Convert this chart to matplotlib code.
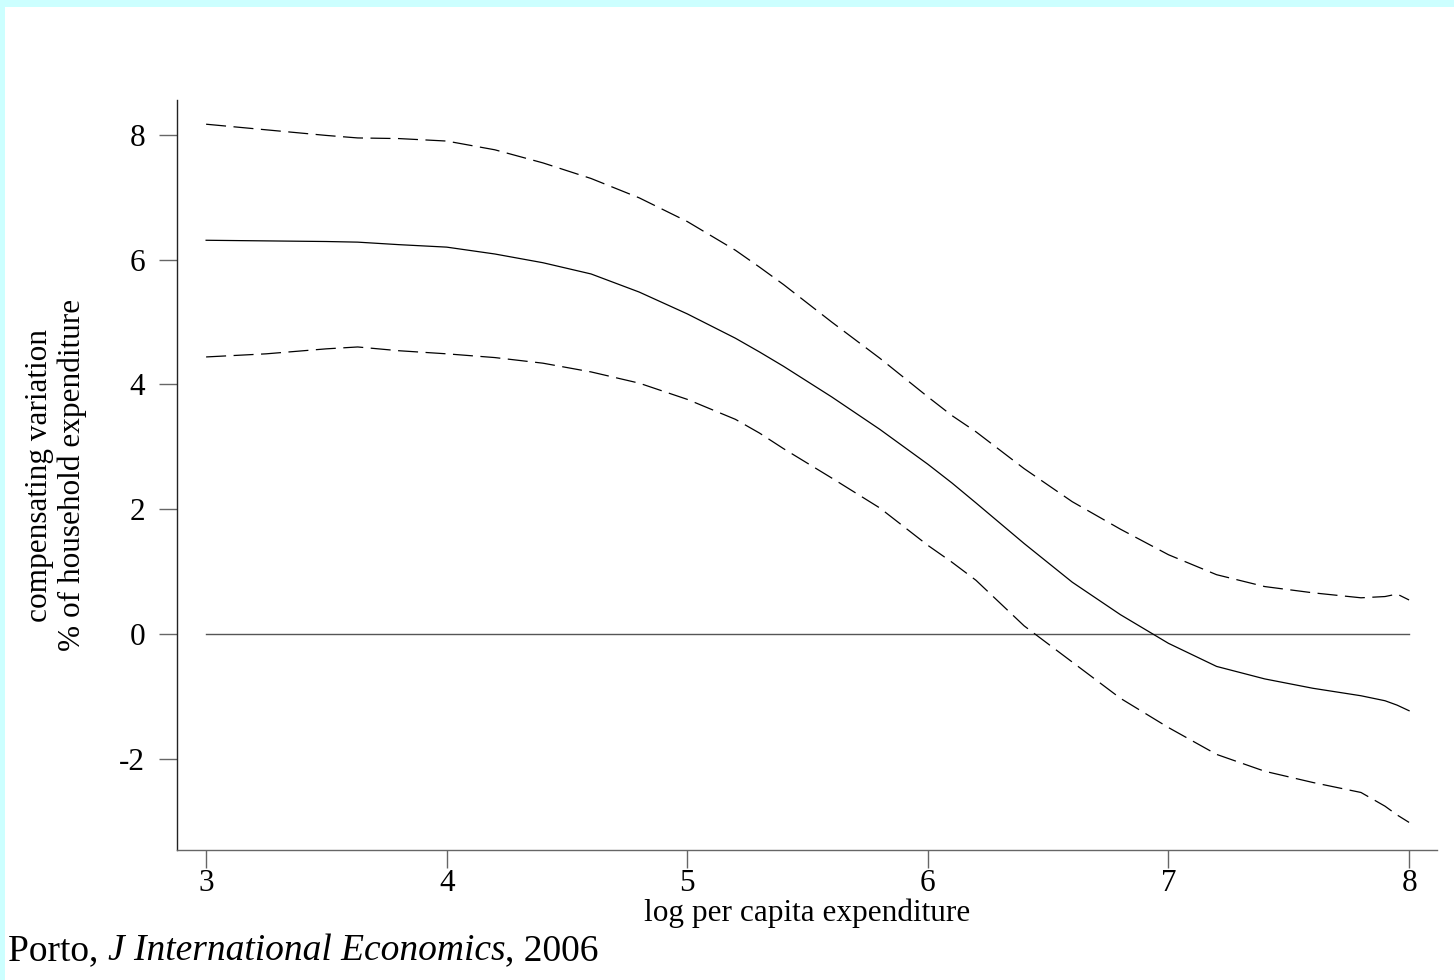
import matplotlib
matplotlib.use("Agg")
import matplotlib.pyplot as plt
from matplotlib.patches import Rectangle

# ---- data ----
x = [3.0, 3.25, 3.5, 3.63, 3.8, 4.0, 4.2, 4.4, 4.6, 4.8, 5.0, 5.2, 5.3, 5.4, 5.6,
     5.8, 6.0, 6.1, 6.2, 6.4, 6.6, 6.8, 7.0, 7.2, 7.4, 7.6, 7.8, 7.9, 7.95, 8.0]
estimate = [6.31, 6.30, 6.29, 6.28, 6.24, 6.20, 6.09, 5.95, 5.77, 5.48, 5.13, 4.74,
            4.52, 4.29, 3.80, 3.28, 2.72, 2.42, 2.10, 1.45, 0.83, 0.31, -0.15, -0.52,
            -0.72, -0.87, -0.99, -1.07, -1.14, -1.23]
upper = [8.17, 8.08, 7.99, 7.95, 7.94, 7.90, 7.76, 7.55, 7.30, 6.99, 6.61, 6.15,
         5.88, 5.60, 5.00, 4.42, 3.80, 3.50, 3.24, 2.65, 2.12, 1.68, 1.27, 0.95,
         0.76, 0.66, 0.58, 0.60, 0.64, 0.545]
lower = [4.44, 4.49, 4.57, 4.60, 4.54, 4.49, 4.43, 4.34, 4.20, 4.02, 3.76, 3.44,
         3.22, 2.97, 2.50, 2.02, 1.42, 1.15, 0.86, 0.13, -0.45, -1.03, -1.50, -1.93,
         -2.20, -2.38, -2.54, -2.76, -2.90, -3.02]
zero_line_x = [3, 8]
zero_line_y = [0, 0]
xticks = [3, 4, 5, 6, 7, 8]
yticks = [-2, 0, 2, 4, 6, 8]
xlabel = "log per capita expenditure"
ylabel = "compensating variation\n% of household expenditure"

plt.rcParams['font.family'] = ['Liberation Serif', 'DejaVu Serif']

W, H = 1454, 980
fig = plt.figure(figsize=(W / 100, H / 100), dpi=100, facecolor='white')

# cyan frame strips (top and left)
cyan = '#CCFFFF'
fig.patches.append(Rectangle((0, 1 - 7 / H), 1, 7 / H, transform=fig.transFigure,
                             facecolor=cyan, edgecolor='none', zorder=0))
fig.patches.append(Rectangle((0, 0), 5 / W, 1, transform=fig.transFigure,
                             facecolor=cyan, edgecolor='none', zorder=0))

left, right, top, bottom = 177, 1437, 100, 850
ax = fig.add_axes([left / W, 1 - bottom / H, (right - left) / W, (bottom - top) / H])
ax.set_facecolor('white')

ax.plot(zero_line_x, zero_line_y, color='#555555', lw=1.0)
ax.plot(x, estimate, color='black', lw=0.9)
ax.plot(x, upper, color='black', lw=0.9, linestyle=(0, (16, 6)))
ax.plot(x, lower, color='black', lw=0.9, linestyle=(0, (16, 6)))

ax.set_xlim(2.879, 8.116)
ax.set_ylim(-3.462, 8.558)

for s in ['top', 'right']:
    ax.spines[s].set_visible(False)
ax.spines['left'].set_color('#222222')
ax.spines['bottom'].set_color('#666666')
ax.spines['left'].set_linewidth(1.0)
ax.spines['bottom'].set_linewidth(1.0)

ax.set_xticks(xticks)
ax.set_yticks(yticks)
ax.set_xticklabels([str(t) for t in xticks])
ax.set_yticklabels([str(t) for t in yticks])
ax.tick_params(axis='both', direction='out', length=13, width=1.0, color='#666666',
               labelsize=22.5)
ax.tick_params(axis='x', pad=1)
ax.tick_params(axis='y', pad=10)

ax.set_xlabel(xlabel, fontsize=22.5, labelpad=0)
ax.set_ylabel(ylabel, fontsize=22.5, labelpad=23, linespacing=1.18)

# footnote with italic journal name
fy = 1 - 960 / H
renderer = fig.canvas.get_renderer()
t1 = fig.text(8 / W, fy, "Porto, ", fontsize=27, va='baseline', ha='left')
bb = t1.get_window_extent(renderer)
t2 = fig.text(bb.x1 / W, fy, "J International Economics", fontsize=27,
              style='italic', va='baseline', ha='left')
bb2 = t2.get_window_extent(renderer)
fig.text(bb2.x1 / W, fy, ", 2006", fontsize=27, va='baseline', ha='left')

fig.savefig("out.png", dpi=100, facecolor='white')
